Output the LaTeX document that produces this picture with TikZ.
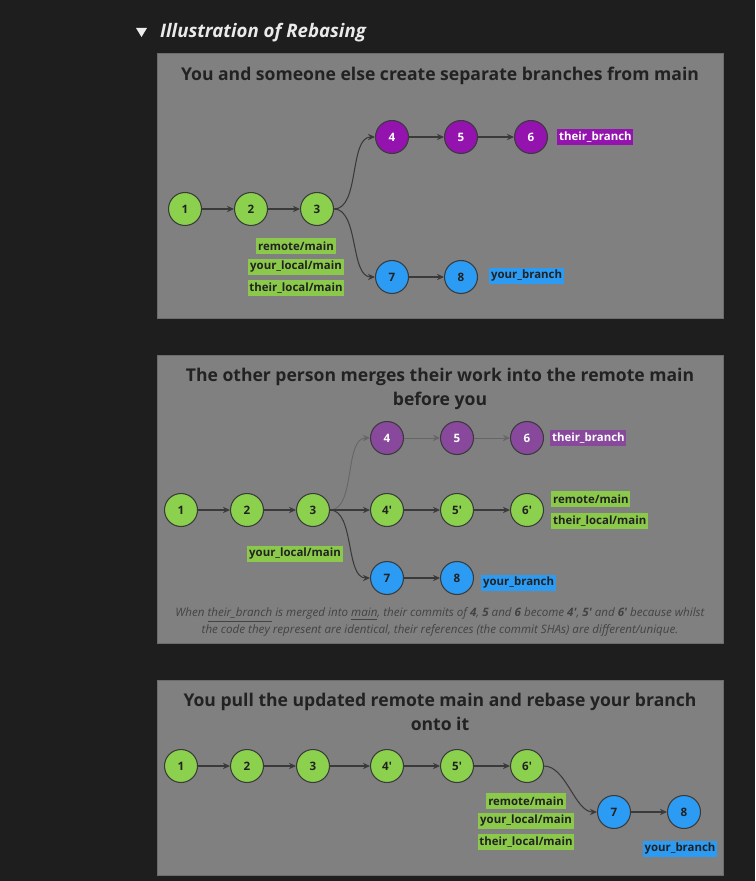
\documentclass[tikz,border=0pt]{standalone}
\usepackage{fontspec}
\setmainfont{Open Sans}
\usetikzlibrary{arrows.meta,positioning}
\definecolor{page}{HTML}{1E1E1E}
\definecolor{panel}{HTML}{808080}
\definecolor{rim}{HTML}{6C6C6C}
\definecolor{ink}{HTML}{222222}
\definecolor{edge}{HTML}{3A3A3A}
\definecolor{faded}{HTML}{666666}
\definecolor{green1}{HTML}{8BD14D}
\definecolor{tag1}{HTML}{8BC94A}
\definecolor{purple1}{HTML}{9413AF}
\definecolor{purple2}{HTML}{88499C}
\definecolor{blue1}{HTML}{2B9BF3}
\definecolor{head}{HTML}{EAEAEA}
\newcommand{\pr}{\textquotesingle}

\begin{document}
\begin{tikzpicture}[x=0.02cm,y=-0.02cm,
  commit/.style={circle,draw=edge,line width=0.6pt,minimum size=0.66cm,inner sep=0pt,
                 text=ink,font=\bfseries\fontsize{6.6}{8}\selectfont},
  tag/.style={rectangle,fill=tag1,text=ink,inner xsep=1pt,inner ysep=0pt,minimum height=0.32cm,
              font=\bfseries\fontsize{6.5}{8}\selectfont},
  title/.style={align=center,text=ink,font=\bfseries\fontsize{10}{13.6}\selectfont},
  link/.style={edge,line width=0.6pt,-{Stealth[length=4pt,width=3.6pt]}},
  ghost/.style={faded,line width=0.5pt,-{Stealth[length=4pt,width=3.6pt]}}]
  \useasboundingbox (0,0) rectangle (755,881);
  \fill[page] (0,0) rectangle (755,881);
  % heading
  \fill[head!90] (136,28) -- (147,28) -- (141.5,37) -- cycle;
  \node[anchor=west,text=head,font=\bfseries\itshape\fontsize{10.6}{13}\selectfont] (heading) at (154,33)
       {Illustration of Rebasing};

  % panel 1: both branches made from main
  \fill[panel,draw=rim] (157,53) rectangle (723,318);
  \node[title] (t1) at (440,76) {You and someone else create separate branches from main};
  \foreach \n/\x in {1/185,2/251,3/317}
    \node[commit,fill=green1] (a\n) at (\x,209) {\n};
  \foreach \n/\x in {4/392,5/461,6/531}
    \node[commit,fill=purple1,text=white] (a\n) at (\x,137) {\n};
  \foreach \n/\x in {7/392,8/461}
    \node[commit,fill=blue1] (a\n) at (\x,277) {\n};
  \foreach \s/\t in {1/2,2/3,4/5,5/6,7/8}
    \draw[link] (a\s) -- (a\t);
  \draw[link] (a3.east) to[out=0,in=180,looseness=0.8] (a4.west);
  \draw[link] (a3.east) to[out=0,in=180,looseness=0.8] (a7.west);
  \node[tag,fill=purple1,text=white,anchor=west] (atheirs) at (557,137) {their\_branch};
  \node[tag,fill=blue1,anchor=west] (ayours) at (489,276) {your\_branch};
  \node[tag] (aremote) at (296,246) {remote/main};
  \node[tag] (ayourmain) at (296,267) {your\_local/main};
  \node[tag] (atheirmain) at (296,288) {their\_local/main};

  % panel 2: their work lands on remote main
  \fill[panel,draw=rim] (157,355) rectangle (723,643);
  \node[title] (t2) at (440,389) {The other person merges their work into the remote main\\before you};
  \foreach \n/\x in {1/181,2/247,3/313}
    \node[commit,fill=green1] (b\n) at (\x,510) {\n};
  \foreach \n/\x in {4/387,5/457,6/527}
    \node[commit,fill=purple2,text=white] (b\n) at (\x,438) {\n};
  \foreach \n/\x in {4/387,5/457,6/527}
    \node[commit,fill=green1] (b\n p) at (\x,510) {\n\pr};
  \foreach \n/\x in {7/387,8/457}
    \node[commit,fill=blue1] (b\n) at (\x,578) {\n};
  \foreach \s/\t in {1/2,2/3,4p/5p,5p/6p,7/8}
    \draw[link] (b\s) -- (b\t);
  \draw[ghost] (b4) -- (b5);
  \draw[ghost] (b5) -- (b6);
  \draw[ghost] (b3.east) to[out=0,in=180,looseness=0.8] (b4.west);
  \draw[link] (b3) -- (b4p);
  \draw[link] (b3.east) to[out=0,in=180,looseness=0.8] (b7.west);
  \node[tag,fill=purple2,text=white,anchor=west] (btheirs) at (550,438) {their\_branch};
  \node[tag,anchor=west] (bremote) at (551,499) {remote/main};
  \node[tag,anchor=west] (btheirmain) at (551,521) {their\_local/main};
  \node[tag] (byourmain) at (295,554) {your\_local/main};
  \node[tag,fill=blue1,anchor=west] (byours) at (481,583) {your\_branch};
  \node[align=center,text=ink!85,font=\itshape\fontsize{6.6}{9.6}\selectfont] (bnote) at (440,622)
       {When \underline{their\_branch} is merged into \underline{main}, their commits of \textbf{4}, \textbf{5} and \textbf{6} become \textbf{4\pr}, \textbf{5\pr} and \textbf{6\pr} because whilst\\
        the code they represent are identical, their references (the commit SHAs) are different/unique.};

  % panel 3: your branch rebased onto the new main
  \fill[panel,draw=rim] (157,680) rectangle (723,875);
  \node[title] (t3) at (440,712) {You pull the updated remote main and rebase your branch\\onto it};
  \foreach \n/\x in {1/181,2/247,3/313}
    \node[commit,fill=green1] (c\n) at (\x,766) {\n};
  \foreach \n/\x in {4/387,5/457,6/527}
    \node[commit,fill=green1] (c\n p) at (\x,766) {\n\pr};
  \foreach \n/\x in {7/614,8/684}
    \node[commit,fill=blue1] (c\n) at (\x,812) {\n};
  \foreach \s/\t in {1/2,2/3,3/4p,4p/5p,5p/6p,7/8}
    \draw[link] (c\s) -- (c\t);
  \draw[link] (c6p.east) to[out=0,in=180,looseness=0.8] (c7.west);
  \node[tag] (cremote) at (526,801) {remote/main};
  \node[tag] (cyourmain) at (526,821) {your\_local/main};
  \node[tag] (ctheirmain) at (526,842) {their\_local/main};
  \node[tag,fill=blue1] (cyours) at (680,849) {your\_branch};
\end{tikzpicture}
\end{document}
